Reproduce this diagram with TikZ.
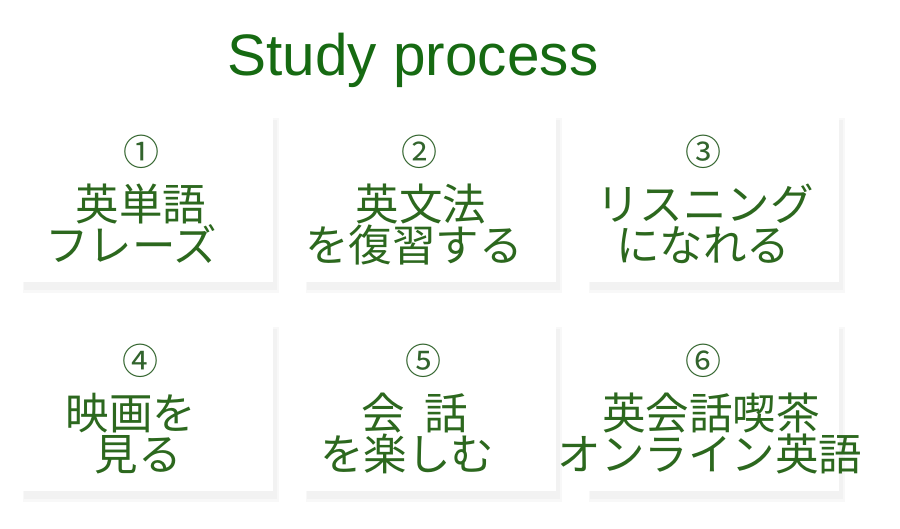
\documentclass[tikz,border=0pt]{standalone}
\usepackage{fontspec}
\setmainfont{Liberation Sans}
\newfontfamily\jp{Noto Sans CJK JP}
\definecolor{titlegreen}{RGB}{22,106,18}
\definecolor{textgreen}{RGB}{44,104,30}
\definecolor{numgreen}{RGB}{50,100,45}
\definecolor{shadowouter}{RGB}{248,248,248}
\definecolor{shadowinner}{RGB}{242,242,242}
\tikzset{
  card/.style={fill=white, draw=none},
  numtext/.style={anchor=base, inner sep=0pt, text=numgreen, font=\jp\fontsize{36}{36}\selectfont},
  jptext/.style={anchor=base, inner sep=0pt, text=textgreen, font=\jp\fontsize{43.5}{43.5}\selectfont},
  titletext/.style={anchor=base, inner sep=0pt, text=titlegreen, font=\fontsize{58.5}{58.5}\selectfont},
}
\begin{document}
\begin{tikzpicture}[x=1pt,y=-1pt]
\useasboundingbox (0,0) rectangle (900,528);
\fill[white] (0,0) rectangle (900,528);
% cards with soft shadows
\foreach \cx in {20,303,586}{
  \foreach \cy in {114,323}{
    \fill[shadowouter] (\cx+3,\cy+4) rectangle (\cx+259,\cy+179);
    \fill[shadowinner] (\cx+4,\cy+6) rectangle (\cx+257,\cy+176);
    \fill[card] (\cx,\cy) rectangle (\cx+253,\cy+168);
  }
}
\node[titletext] (title) at (413,75) {Study process};
% row 1
\node[numtext] (n1) at (141,165) {①};
\node[jptext] (a1) at (141,220) {英単語};
\node[jptext] (b1) at (131,261) {フレーズ};
\node[numtext] (n2) at (419,165) {②};
\node[jptext] (a2) at (421,220) {英文法};
\node[jptext] (b2) at (414,261) {を復習する};
\node[numtext] (n3) at (703,165) {③};
\node[jptext] (a3) at (705,220) {リスニング};
\node[jptext] (b3) at (703,261) {になれる};
% row 2
\node[numtext] (n4) at (140,374) {④};
\node[jptext] (a4) at (131,429) {映画を};
\node[jptext] (b4) at (138,470) {見る};
\node[numtext] (n5) at (423,374) {⑤};
\node[jptext] (a5) at (415,429) {会\hspace{0.45em}話};
\node[jptext] (b5) at (407,470) {を楽しむ};
\node[numtext] (n6) at (703,374) {⑥};
\node[jptext] (a6) at (711,429) {英会話喫茶};
\node[jptext] (b6) at (710,470) {オンライン英語};
\end{tikzpicture}
\end{document}
